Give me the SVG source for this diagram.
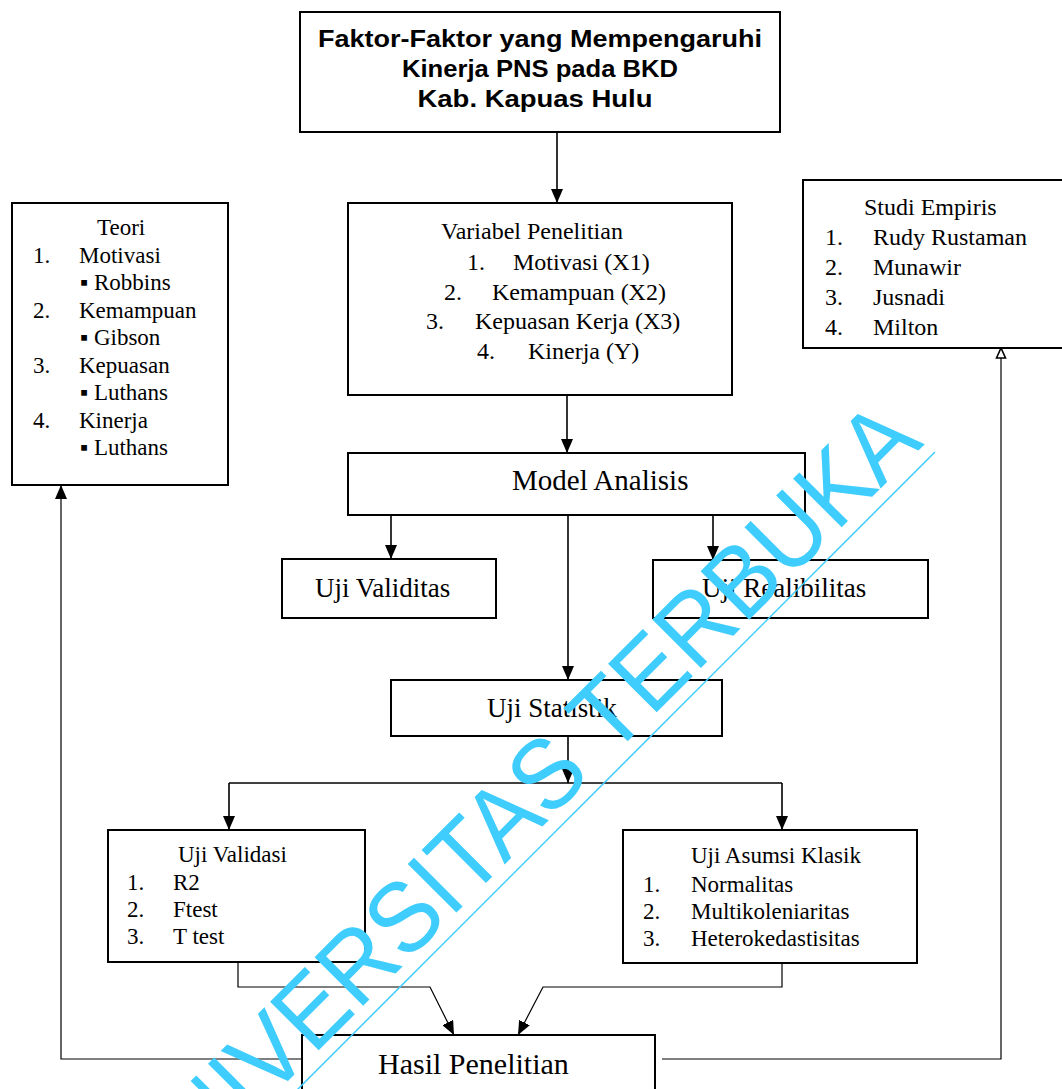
<svg xmlns="http://www.w3.org/2000/svg" width="1062" height="1089" viewBox="0 0 1062 1089">
<style>
.box{fill:#fff;stroke:#000;stroke-width:2}
.t{font-family:"Liberation Serif","Times New Roman",serif;fill:#000}
.h{font-family:"Liberation Sans",Arial,sans-serif;font-weight:bold;fill:#000}
.c{fill:none;stroke:#000;stroke-width:1.6}
.thin{fill:none;stroke:#000;stroke-width:1.2}
.wm{font-family:"Liberation Sans",Arial,sans-serif;fill:#3fcdfd}
</style>
<defs>
<marker id="arr" viewBox="0 0 14 12" markerWidth="14" markerHeight="12" refX="14" refY="6" orient="auto" markerUnits="userSpaceOnUse">
<path d="M0,0 L14,6 L0,12 z" fill="#000"/>
</marker>
<marker id="harr" viewBox="0 0 12 12" markerWidth="12" markerHeight="12" refX="11" refY="6" orient="auto" markerUnits="userSpaceOnUse">
<path d="M1,1.5 L11,6 L1,10.5 z" fill="#fff" stroke="#000" stroke-width="1.6"/>
</marker>
</defs>

<g id="connectors">
<path class="c" d="M557,132 V203" marker-end="url(#arr)"/>
<path class="c" d="M567,395 V453" marker-end="url(#arr)"/>
<path class="c" d="M391,515 V559" marker-end="url(#arr)"/>
<path class="c" d="M568,515 V680" marker-end="url(#arr)"/>
<path class="c" d="M713,515 V560" marker-end="url(#arr)"/>
<path class="c" d="M568,736 V783" marker-end="url(#arr)"/>
<path class="c" d="M229,783 H782"/>
<path class="c" d="M229,783 V830" marker-end="url(#arr)"/>
<path class="c" d="M782,783 V830" marker-end="url(#arr)"/>
<path class="thin" d="M238,962 V987 H430 L454,1035" marker-end="url(#arr)"/>
<path class="thin" d="M782,963 V987 H543 L518,1035" marker-end="url(#arr)"/>
<path class="thin" d="M302,1059 H61 V485" marker-end="url(#arr)"/>
<path class="thin" d="M662,1059 H1001 V348" marker-end="url(#harr)"/>
</g>

<g id="node-judul">
<rect class="box" x="300" y="12" width="480" height="120"/>
<text class="h" x="540" y="47" font-size="23" text-anchor="middle" textLength="444" lengthAdjust="spacingAndGlyphs">Faktor-Faktor yang Mempengaruhi</text>
<text class="h" x="540" y="77" font-size="23" text-anchor="middle" textLength="276" lengthAdjust="spacingAndGlyphs">Kinerja PNS pada BKD</text>
<text class="h" x="535" y="107" font-size="23" text-anchor="middle" textLength="235" lengthAdjust="spacingAndGlyphs">Kab. Kapuas Hulu</text>
</g>

<g id="node-teori">
<rect class="box" x="12" y="203" width="216" height="282"/>
<g class="t" font-size="23">
<text x="97" y="235">Teori</text>
<text x="33" y="263">1.</text><text x="79" y="263">Motivasi</text>
<text x="80" y="290">▪ Robbins</text>
<text x="33" y="318">2.</text><text x="79" y="318">Kemampuan</text>
<text x="80" y="345">▪ Gibson</text>
<text x="33" y="373">3.</text><text x="79" y="373">Kepuasan</text>
<text x="80" y="400">▪ Luthans</text>
<text x="33" y="428">4.</text><text x="79" y="428">Kinerja</text>
<text x="80" y="455">▪ Luthans</text>
</g>
</g>

<g id="node-variabel">
<rect class="box" x="348" y="203" width="384" height="192"/>
<g class="t" font-size="24">
<text x="441" y="239">Variabel Penelitian</text>
<text x="467" y="270">1.</text><text x="513" y="270">Motivasi (X1)</text>
<text x="444" y="300">2.</text><text x="492" y="300">Kemampuan (X2)</text>
<text x="426" y="329">3.</text><text x="475" y="329">Kepuasan Kerja (X3)</text>
<text x="477" y="359">4.</text><text x="528" y="359">Kinerja (Y)</text>
</g>
</g>

<g id="node-empiris">
<rect class="box" x="803" y="180" width="262" height="168"/>
<g class="t" font-size="24">
<text x="864" y="215">Studi Empiris</text>
<text x="825" y="245">1.</text><text x="873" y="245">Rudy Rustaman</text>
<text x="825" y="275">2.</text><text x="873" y="275">Munawir</text>
<text x="825" y="305">3.</text><text x="873" y="305">Jusnadi</text>
<text x="825" y="335">4.</text><text x="873" y="335">Milton</text>
</g>
</g>

<g id="node-model">
<rect class="box" x="348" y="453" width="457" height="62"/>
<text class="t" x="512" y="490" font-size="29">Model Analisis</text>
</g>

<g id="node-validitas">
<rect class="box" x="282" y="559" width="214" height="59"/>
<text class="t" x="315" y="597" font-size="27">Uji Validitas</text>
</g>

<g id="node-realibilitas">
<rect class="box" x="653" y="560" width="275" height="58"/>
<text class="t" x="702" y="597" font-size="27">Uji Realibilitas</text>
</g>

<g id="node-statistik">
<rect class="box" x="391" y="680" width="331" height="56"/>
<text class="t" x="487" y="717" font-size="27">Uji Statistik</text>
</g>

<g id="node-validasi">
<rect class="box" x="108" y="830" width="257" height="132"/>
<g class="t" font-size="23">
<text x="178" y="862">Uji Validasi</text>
<text x="127" y="890">1.</text><text x="173" y="890">R2</text>
<text x="127" y="917">2.</text><text x="173" y="917">Ftest</text>
<text x="127" y="944">3.</text><text x="173" y="944">T test</text>
</g>
</g>

<g id="node-asumsi">
<rect class="box" x="623" y="830" width="294" height="133"/>
<g class="t" font-size="23">
<text x="691" y="863">Uji Asumsi Klasik</text>
<text x="643" y="892">1.</text><text x="691" y="892">Normalitas</text>
<text x="643" y="919">2.</text><text x="691" y="919">Multikoleniaritas</text>
<text x="643" y="946">3.</text><text x="691" y="946">Heterokedastisitas</text>
</g>
</g>

<g id="node-hasil">
<rect class="box" x="302" y="1035" width="353" height="70"/>
<text class="t" x="378" y="1074" font-size="30">Hasil Penelitian</text>
</g>

<g id="watermark">
<text class="wm" x="925" y="444" font-size="100" text-anchor="end" textLength="1090" lengthAdjust="spacingAndGlyphs" transform="rotate(-45 925 444)">UNIVERSITAS TERBUKA</text>
<path d="M295,1092 L935,452" stroke="#3fcdfd" stroke-width="1.5" fill="none"/>
</g>
</svg>
